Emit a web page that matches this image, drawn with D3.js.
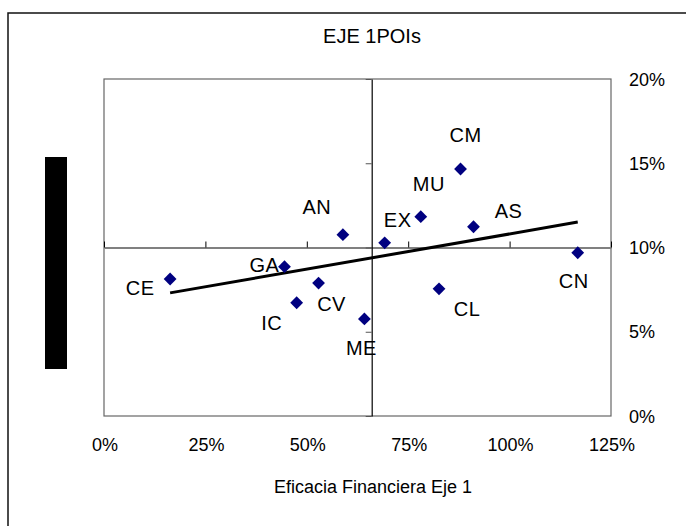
<!DOCTYPE html>
<html>
<head>
<meta charset="utf-8">
<script src="https://cdn.jsdelivr.net/npm/d3@7"></script>
<style>
  body { margin: 0; background: white; }
  svg { display: block; font-family: "Liberation Sans", Arial, sans-serif; }
  .etiqueta { font-size: 18px; fill: black; }
  .nombre { font-size: 20px; fill: black; letter-spacing: 0.5px; }
  .titulo { font-size: 20px; fill: black; }
</style>
</head>
<body>
<div id="wykres"></div>
<script>

// dane: eficacia financiera (x) vs y, eje 1
var nombres = ["CE", "GA", "AN", "CV", "IC", "ME", "EX", "MU", "CM", "AS", "CL", "CN"];
var valoresX = [0.163, 0.445, 0.589, 0.529, 0.475, 0.642, 0.692, 0.781, 0.879, 0.911, 0.826, 1.168];
var valoresY = [0.0813, 0.0886, 0.1076, 0.0789, 0.0672, 0.0576, 0.1028, 0.1183, 0.1466, 0.1123, 0.0755, 0.0969];

var ticksX = [0, 0.25, 0.5, 0.75, 1, 1.25];
var ticksY = [0, 0.05, 0.1, 0.15, 0.2];

var cruceX = 0.66;   // donde el eje Y corta al eje X
var cruceY = 0.10;   // donde el eje X corta al eje Y

var titulo = "EJE 1POIs";
var tituloX = "Eficacia Financiera Eje 1";

// desplazamiento de cada etiqueta respecto a su punto
var despl = {
  CE: [-30, 9], GA: [-20, -2], AN: [-26, -28], CV: [13, 21],
  IC: [-25, 20], ME: [-3, 29], EX: [13, -23], MU: [8, -33],
  CM: [5, -34], AS: [35, -16], CL: [28, 20], CN: [-4, 28]
};

var puntos = nombres.map(function (n, i) {
  return { nombre: n, x: valoresX[i], y: valoresY[i] };
});

var width = 686, height = 526;

var svg = d3.select("#wykres")
  .append("svg")
  .attr("width", width)
  .attr("height", height);

// marco exterior
svg.append("rect")
  .attr("x", 8)
  .attr("y", 13)
  .attr("width", 760)
  .attr("height", 600)
  .attr("fill", "white")
  .attr("stroke", "#111")
  .attr("stroke-width", 1.5);

var xscale = d3.scaleLinear().domain([0, 1.25]).range([104, 611]);
var yscale = d3.scaleLinear().domain([0, 0.2]).range([416, 79]);

// area del grafico
svg.append("rect")
  .attr("x", xscale(0))
  .attr("y", yscale(0.2))
  .attr("width", xscale(1.25) - xscale(0))
  .attr("height", yscale(0) - yscale(0.2))
  .attr("fill", "none")
  .attr("stroke", "#666")
  .attr("stroke-width", 1.2);

// eje X (cruza en 10%)
var xAxis = svg.append("g")
  .attr("transform", "translate(0," + yscale(cruceY) + ")")
  .call(d3.axisTop(xscale).tickValues(ticksX).tickSize(6).tickSizeOuter(0).tickFormat(""));
xAxis.select(".domain").attr("stroke", "#808080").attr("stroke-width", 2);
xAxis.selectAll(".tick line").attr("stroke", "black");

// eje Y (cruza en 66%)
var yAxis = svg.append("g")
  .attr("transform", "translate(" + xscale(cruceX) + ",0)")
  .call(d3.axisLeft(yscale).tickValues(ticksY).tickSize(6).tickSizeOuter(0).tickFormat(""));
yAxis.select(".domain").attr("stroke", "black").attr("stroke-width", 1.2);
yAxis.selectAll(".tick line").attr("stroke", "#555");

var formatPct = d3.format(".0%");

// etiquetas de los ejes (abajo y a la derecha)
svg.append("g")
  .selectAll("text")
  .data(ticksX)
  .enter().append("text")
  .attr("class", "etiqueta")
  .attr("x", d => xscale(d) + 1)
  .attr("y", 451)
  .attr("text-anchor", "middle")
  .text(formatPct);

svg.append("g")
  .selectAll("text")
  .data(ticksY)
  .enter().append("text")
  .attr("class", "etiqueta")
  .attr("x", 629)
  .attr("y", d => yscale(d) + 6.5)
  .text(formatPct);

// linea de tendencia (regresion lineal)
var mx = d3.mean(puntos, d => d.x), my = d3.mean(puntos, d => d.y);
var sxy = d3.sum(puntos, d => (d.x - mx) * (d.y - my));
var sxx = d3.sum(puntos, d => (d.x - mx) * (d.x - mx));
var pendiente = sxy / sxx;
var tendencia = d3.extent(puntos, d => d.x).map(function (x) {
  return { x: x, y: my + pendiente * (x - mx) };
});

svg.append("path")
  .datum(tendencia)
  .attr("fill", "none")
  .attr("stroke", "black")
  .attr("stroke-width", 3)
  .attr("d", d3.line()
    .x(d => xscale(d.x))
    .y(d => yscale(d.y))
  );

// puntos (rombos)
svg.append("g")
  .selectAll("path")
  .data(puntos)
  .enter().append("path")
  .attr("d", d3.symbol(d3.symbolSquare, 82))
  .attr("transform", d => "translate(" + xscale(d.x) + "," + yscale(d.y) + ")rotate(45)")
  .attr("fill", "#000080");

svg.append("g")
  .selectAll("text")
  .data(puntos)
  .enter().append("text")
  .attr("class", "nombre")
  .attr("x", d => xscale(d.x) + despl[d.nombre][0])
  .attr("y", d => yscale(d.y) + despl[d.nombre][1] + 7)
  .attr("text-anchor", "middle")
  .text(d => d.nombre);

// titulos
svg.append("text")
  .attr("class", "titulo")
  .attr("x", 372)
  .attr("y", 43)
  .attr("text-anchor", "middle")
  .text(titulo);

svg.append("text")
  .attr("class", "etiqueta")
  .attr("x", 373)
  .attr("y", 493)
  .attr("text-anchor", "middle")
  .text(tituloX);

// bloque negro a la izquierda (titulo del eje Y tapado)
svg.append("rect")
  .attr("x", 45)
  .attr("y", 157)
  .attr("width", 22)
  .attr("height", 212)
  .attr("fill", "black");

</script>
</body>
</html>
